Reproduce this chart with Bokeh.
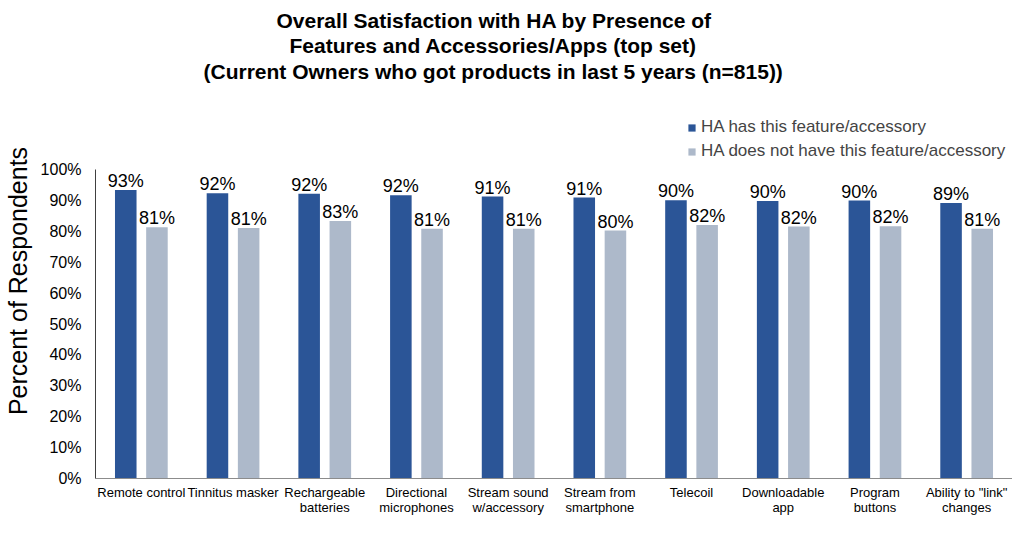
from bokeh.plotting import figure
from bokeh.models import (FactorRange, Range1d, FixedTicker, PrintfTickFormatter, Legend,
                          LegendItem, ColumnDataSource, Title)
from bokeh.transform import dodge
from bokeh.core.properties import value
from bokeh.embed import file_html
from bokeh.resources import INLINE

title_lines = ["Overall Satisfaction with HA by Presence of",
               "Features and Accessories/Apps (top set)",
               "(Current Owners who got products in last 5 years (n=815))"]
categories = ["Remote control", "Tinnitus masker", "Rechargeable\nbatteries", "Directional\nmicrophones",
              "Stream sound\nw/accessory", "Stream from\nsmartphone", "Telecoil", "Downloadable\napp",
              "Program\nbuttons", 'Ability to "link"\nchanges']
has_feature = [93.4, 92.4, 92.2, 91.7, 91.3, 91.0, 90.1, 89.9, 90.0, 89.2]
no_feature = [81.4, 81.1, 83.4, 80.9, 80.9, 80.3, 82.1, 81.6, 81.7, 80.9]
has_labels = ["93%", "92%", "92%", "92%", "91%", "91%", "90%", "90%", "90%", "89%"]
no_labels = ["81%", "81%", "83%", "81%", "81%", "80%", "82%", "82%", "82%", "81%"]
series_names = ["HA has this feature/accessory", "HA does not have this feature/accessory"]
y_ticks = [0, 10, 20, 30, 40, 50, 60, 70, 80, 90, 100]

DARK = "#2B5597"
LIGHT = "#ADB9CA"
FONT = "Liberation Sans"

# layout (pixels)
HEIGHT = 517
FRAME_H = 394                                      # resulting plot-frame height
PX_ABOVE_100 = 86                                  # legend room above the 100% line
Y_END = 100.0 * FRAME_H / (FRAME_H - PX_ABOVE_100)

src = ColumnDataSource(dict(cat=categories, has=has_feature, no=no_feature,
                            has_lbl=has_labels, no_lbl=no_labels))

p = figure(x_range=FactorRange(factors=categories, range_padding=0, factor_padding=0),
           y_range=Range1d(0, Y_END), width=1012, height=HEIGHT, title=None,
           output_backend="svg", toolbar_location=None,
           min_border_left=85, min_border_right=0,
           min_border_top=83, min_border_bottom=30)

r1 = p.vbar(x=dodge("cat", -0.17, range=p.x_range), top="has", width=0.235, source=src,
            fill_color=DARK, line_color=None)
r2 = p.vbar(x=dodge("cat", 0.17, range=p.x_range), top="no", width=0.235, source=src,
            fill_color=LIGHT, line_color=None)

for col, lbl, off in (("has", "has_lbl", -0.17), ("no", "no_lbl", 0.17)):
    p.text(x=dodge("cat", off, range=p.x_range), y=col, text=lbl, source=src,
           text_align="center", text_baseline="alphabetic", y_offset=-9,
           text_font_size="18px", text_font=value(FONT), text_color="#000000")

legend = Legend(items=[LegendItem(label=series_names[0], renderers=[r1]),
                       LegendItem(label=series_names[1], renderers=[r2])],
                location=(592, FRAME_H - PX_ABOVE_100 + 9), padding=4, margin=0, spacing=4,
                label_text_font=FONT, label_text_font_size="17px", label_height=20,
                glyph_width=9, glyph_height=9, label_standoff=5,
                background_fill_alpha=0, border_line_color=None)
p.add_layout(legend, "center")

title_offsets = [181, 194, 108]
for i, (line, off) in enumerate(reversed(list(zip(title_lines, title_offsets)))):
    t = Title(text=line, align="left", offset=off, standoff=2 if i == 0 else 0,
              text_font=FONT, text_font_size="21px", text_font_style="bold",
              text_color="#000000")
    p.add_layout(t, "above")

p.xgrid.visible = False
p.ygrid.visible = False
p.outline_line_color = None

p.yaxis.ticker = FixedTicker(ticks=y_ticks)
p.yaxis.bounds = (0, 100)
p.yaxis.formatter = PrintfTickFormatter(format="%d%%")
p.yaxis.axis_label = "Percent of Respondents"
p.yaxis.axis_label_text_font = FONT
p.yaxis.axis_label_text_font_size = "25px"
p.yaxis.axis_label_text_font_style = "normal"
p.yaxis.axis_label_text_color = "#000000"
p.yaxis.axis_label_standoff = 6
p.yaxis.major_label_text_font = FONT
p.yaxis.major_label_text_font_size = "16px"
p.yaxis.major_label_text_color = "#000000"
p.yaxis.major_label_standoff = 14
p.yaxis.major_tick_in = 0
p.yaxis.major_tick_out = 0
p.yaxis.minor_tick_in = 0
p.yaxis.minor_tick_out = 0
p.yaxis.axis_line_color = "#404040"

p.xaxis.major_label_text_font = FONT
p.xaxis.major_label_text_font_size = "13px"
p.xaxis.major_label_text_line_height = 1.0
p.xaxis.major_label_text_color = "#000000"
p.xaxis.major_label_standoff = 6
p.xaxis.major_tick_in = 0
p.xaxis.major_tick_out = 0
p.xaxis.axis_line_color = "#8C8C8C"

open("out.html", "w").write(file_html(p, INLINE))
